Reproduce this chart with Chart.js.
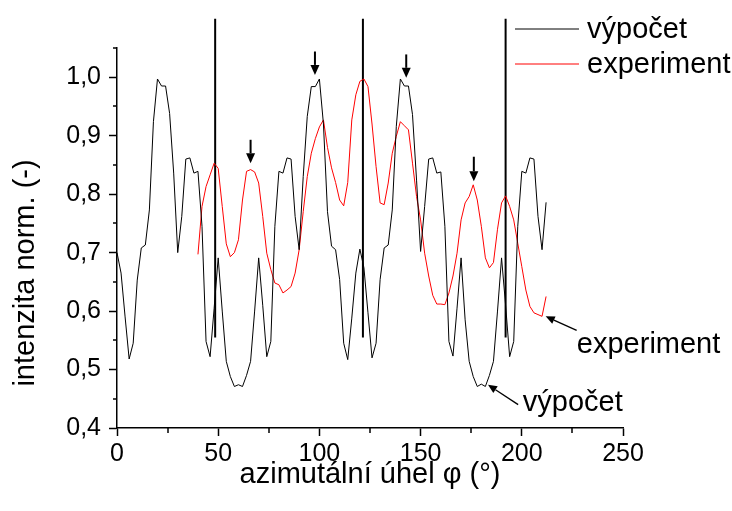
<!DOCTYPE html>
<html><head><meta charset="utf-8">
<script src="https://cdn.jsdelivr.net/npm/chart.js@4/dist/chart.umd.min.js"></script>
<style>html,body{margin:0;padding:0;background:#fff}#wrap{width:732px;height:511px;position:relative}</style>
</head><body><div id="wrap"><canvas id="c" width="732" height="511"></canvas></div>
<script>
// ---- data ----
const calcAngles = [0,2,4,6,8,10,12,14,16,18,20,22,24,26,28,30,32,34,36,38,40,42,44,46,48,50,52,54,56,58,60,62,64,66,68,70,72,74,76,78,80,82,84,86,88,90,92,94,96,98,100,102,104,106,108,110,112,114,116,118,120,122,124,126,128,130,132,134,136,138,140,142,144,146,148,150,152,154,156,158,160,162,164,166,168,170,172,174,176,178,180,182,184,186,188,190,192,194,196,198,200,202,204,206,208,210,212];
const calcValues = [0.700,0.665,0.590,0.518,0.545,0.653,0.708,0.713,0.773,0.924,0.997,0.985,0.985,0.938,0.836,0.700,0.762,0.860,0.862,0.836,0.839,0.745,0.548,0.522,0.605,0.691,0.600,0.514,0.488,0.471,0.474,0.471,0.490,0.514,0.600,0.691,0.610,0.522,0.548,0.745,0.839,0.836,0.862,0.860,0.762,0.705,0.830,0.933,0.984,0.984,0.997,0.920,0.770,0.711,0.705,0.654,0.545,0.517,0.588,0.665,0.706,0.674,0.597,0.520,0.545,0.654,0.708,0.713,0.773,0.916,0.997,0.985,0.985,0.936,0.824,0.702,0.779,0.860,0.862,0.836,0.838,0.745,0.548,0.523,0.605,0.691,0.585,0.514,0.488,0.471,0.475,0.471,0.490,0.514,0.600,0.691,0.610,0.522,0.548,0.745,0.839,0.836,0.862,0.860,0.762,0.705,0.786];
const expAngles = [40,42,44,46,48,50,52,54,56,58,60,62,64,66,68,70,72,74,76,78,80,82,84,86,88,90,92,94,96,98,100,102,104,106,108,110,112,114,116,118,120,122,124,126,128,130,132,134,136,138,140,142,144,146,148,150,152,154,156,158,160,162,164,166,168,170,172,174,176,178,180,182,184,186,188,190,192,194,196,198,200,202,204,206,208,210,212];
const expValues = [0.697,0.779,0.813,0.833,0.853,0.844,0.779,0.715,0.693,0.700,0.722,0.790,0.839,0.842,0.838,0.819,0.762,0.699,0.671,0.648,0.645,0.631,0.636,0.642,0.665,0.705,0.770,0.830,0.870,0.895,0.915,0.927,0.880,0.845,0.820,0.790,0.780,0.820,0.927,0.970,0.993,0.997,0.984,0.920,0.847,0.785,0.782,0.819,0.870,0.899,0.924,0.917,0.910,0.853,0.796,0.756,0.699,0.660,0.627,0.612,0.612,0.611,0.631,0.660,0.699,0.756,0.785,0.796,0.816,0.790,0.745,0.691,0.674,0.683,0.740,0.785,0.797,0.779,0.756,0.716,0.676,0.636,0.608,0.597,0.594,0.591,0.625];
const markerAngles = [48.5, 121.5, 192];
const markerRange = [0.555, 1.1];
const seriesLabels = ['výpočet', 'experiment'];
const xTickValues = [0,25,50,75,100,125,150,175,200,225,250];
const xLabelValues = [0,50,100,150,200,250];
const yTickValues = [0.4,0.45,0.5,0.55,0.6,0.65,0.7,0.75,0.8,0.85,0.9,0.95,1.0,1.05];
const yLabelValues = [0.4,0.5,0.6,0.7,0.8,0.9,1.0];
const xTitle = 'azimutální úhel φ (°)';
const yTitle = 'intenzita norm. (-)';
// peak arrows (angle, tail value, tip value)
const peakArrowAngles = [66, 97.8, 142.9, 176.3];
const peakArrowTails = [0.893, 1.044, 1.039, 0.864];
const peakArrowTips = [0.853, 1.004, 0.999, 0.822];
// labelled arrows
const noteTexts = ['experiment', 'výpočet'];
const noteTextAngles = [227.2, 200.5];
const noteTextValues = [0.542, 0.442];
const noteTailAngles = [227.1, 198.2];
const noteTailValues = [0.567, 0.44];
const noteTipAngles = [211.8, 183.3];
const noteTipValues = [0.591, 0.474];

// ---- drawing ----
const FONT = "'Liberation Sans', Arial, sans-serif";
const TICK_SIZE = 25, TITLE_SIZE = 29, NOTE_SIZE = 29;
const isIn = (arr, v) => arr.some(a => Math.abs(a - v) < 1e-6);

function arrow(ctx, x1, y1, x2, y2, w, headL, headW) {
  const ang = Math.atan2(y2 - y1, x2 - x1);
  const bx = x2 - headL * Math.cos(ang), by = y2 - headL * Math.sin(ang);
  ctx.beginPath(); ctx.moveTo(x1, y1); ctx.lineTo(bx, by);
  ctx.lineWidth = w; ctx.strokeStyle = '#000'; ctx.stroke();
  ctx.beginPath(); ctx.moveTo(x2, y2);
  ctx.lineTo(bx + headW * Math.sin(ang), by - headW * Math.cos(ang));
  ctx.lineTo(bx - headW * Math.sin(ang), by + headW * Math.cos(ang));
  ctx.closePath(); ctx.fillStyle = '#000'; ctx.fill();
}

const extras = {
  id: 'extras',
  afterDraw(chart) {
    const ctx = chart.ctx, xs = chart.scales.x, ys = chart.scales.y;
    const area = chart.chartArea;
    ctx.save();
    // minor ticks
    ctx.strokeStyle = '#000'; ctx.lineWidth = 1.5;
    xTickValues.filter(v => !isIn(xLabelValues, v)).forEach(v => {
      const px = Math.round(xs.getPixelForValue(v));
      ctx.beginPath(); ctx.moveTo(px, area.bottom); ctx.lineTo(px, area.bottom + 5); ctx.stroke();
    });
    yTickValues.filter(v => !isIn(yLabelValues, v)).forEach(v => {
      const py = Math.round(ys.getPixelForValue(v));
      ctx.beginPath(); ctx.moveTo(area.left, py); ctx.lineTo(area.left - 4, py); ctx.stroke();
    });
    // y title
    ctx.fillStyle = '#000';
    ctx.font = TITLE_SIZE + 'px ' + FONT;
    ctx.textAlign = 'center'; ctx.textBaseline = 'middle';
    ctx.translate(26, 273); ctx.rotate(-Math.PI / 2);
    ctx.fillText(yTitle, 0, 0);
    ctx.setTransform(1, 0, 0, 1, 0, 0);
    // peak arrows
    peakArrowAngles.forEach((a, i) => {
      const px = xs.getPixelForValue(a);
      arrow(ctx, px, ys.getPixelForValue(peakArrowTails[i]), px, ys.getPixelForValue(peakArrowTips[i]), 2, 10, 4.5);
    });
    // notes
    ctx.font = NOTE_SIZE + 'px ' + FONT;
    ctx.textAlign = 'left'; ctx.textBaseline = 'middle';
    noteTexts.forEach((t, i) => {
      arrow(ctx, xs.getPixelForValue(noteTailAngles[i]), ys.getPixelForValue(noteTailValues[i]),
            xs.getPixelForValue(noteTipAngles[i]), ys.getPixelForValue(noteTipValues[i]), 1.3, 9, 4);
      ctx.fillStyle = '#000';
      ctx.fillText(t, xs.getPixelForValue(noteTextAngles[i]), ys.getPixelForValue(noteTextValues[i]));
    });
    // legend
    const legendY = [29, 64];
    chart.data.datasets.slice(0, 2).forEach((ds, i) => {
      ctx.beginPath(); ctx.moveTo(515, legendY[i]); ctx.lineTo(579, legendY[i]);
      ctx.strokeStyle = ds.borderColor; ctx.lineWidth = 1; ctx.stroke();
      ctx.fillStyle = '#000';
      ctx.fillText(ds.label, 587, legendY[i] + 1);
    });
    ctx.restore();
  }
};

const datasets = [
  { label: seriesLabels[0], data: calcAngles.map((x, i) => ({ x, y: calcValues[i] })),
    borderColor: '#000000', borderWidth: 1, pointRadius: 0, tension: 0 },
  { label: seriesLabels[1], data: expAngles.map((x, i) => ({ x, y: expValues[i] })),
    borderColor: '#ff0000', borderWidth: 1, pointRadius: 0, tension: 0 }
].concat(markerAngles.map(a => ({
  label: 'marker', data: [{ x: a, y: markerRange[0] }, { x: a, y: markerRange[1] }],
  borderColor: '#000000', borderWidth: 2, pointRadius: 0, clip: false
})));

new Chart(document.getElementById('c'), {
  type: 'line',
  data: { datasets },
  options: {
    responsive: false, animation: false, devicePixelRatio: 1,
    layout: { padding: { left: 0, top: 48, right: 109, bottom: 0 } },
    plugins: { legend: { display: false }, tooltip: { enabled: false } },
    scales: {
      x: {
        type: 'linear', min: 0, max: 250,
        afterBuildTicks: s => { s.ticks = xLabelValues.map(v => ({ value: v })); },
        ticks: { font: { family: FONT, size: TICK_SIZE }, color: '#000', maxRotation: 0, autoSkip: false, padding: 3,
                 callback: v => String(v) },
        grid: { display: true, drawOnChartArea: false, tickLength: 8, tickWidth: 1.5, tickColor: '#000' },
        border: { display: true, color: '#000', width: 1.5 },
        title: { display: true, text: xTitle, font: { family: FONT, size: TITLE_SIZE }, color: '#000', padding: { top: 0, bottom: 19 } },
        afterFit: s => { s.height = 83; }
      },
      y: {
        type: 'linear', min: 0.4, max: 1.05,
        afterBuildTicks: s => { s.ticks = yLabelValues.map(v => ({ value: v })); },
        ticks: { font: { family: FONT, size: TICK_SIZE }, color: '#000', autoSkip: false, padding: 8,
                 callback: v => v.toFixed(1).replace('.', ',') },
        grid: { display: true, drawOnChartArea: false, tickLength: 8, tickWidth: 1.5, tickColor: '#000' },
        border: { display: true, color: '#000', width: 1.5 },
        afterFit: s => { s.width = 117; }
      }
    }
  },
  plugins: [extras]
});
</script></body></html>
